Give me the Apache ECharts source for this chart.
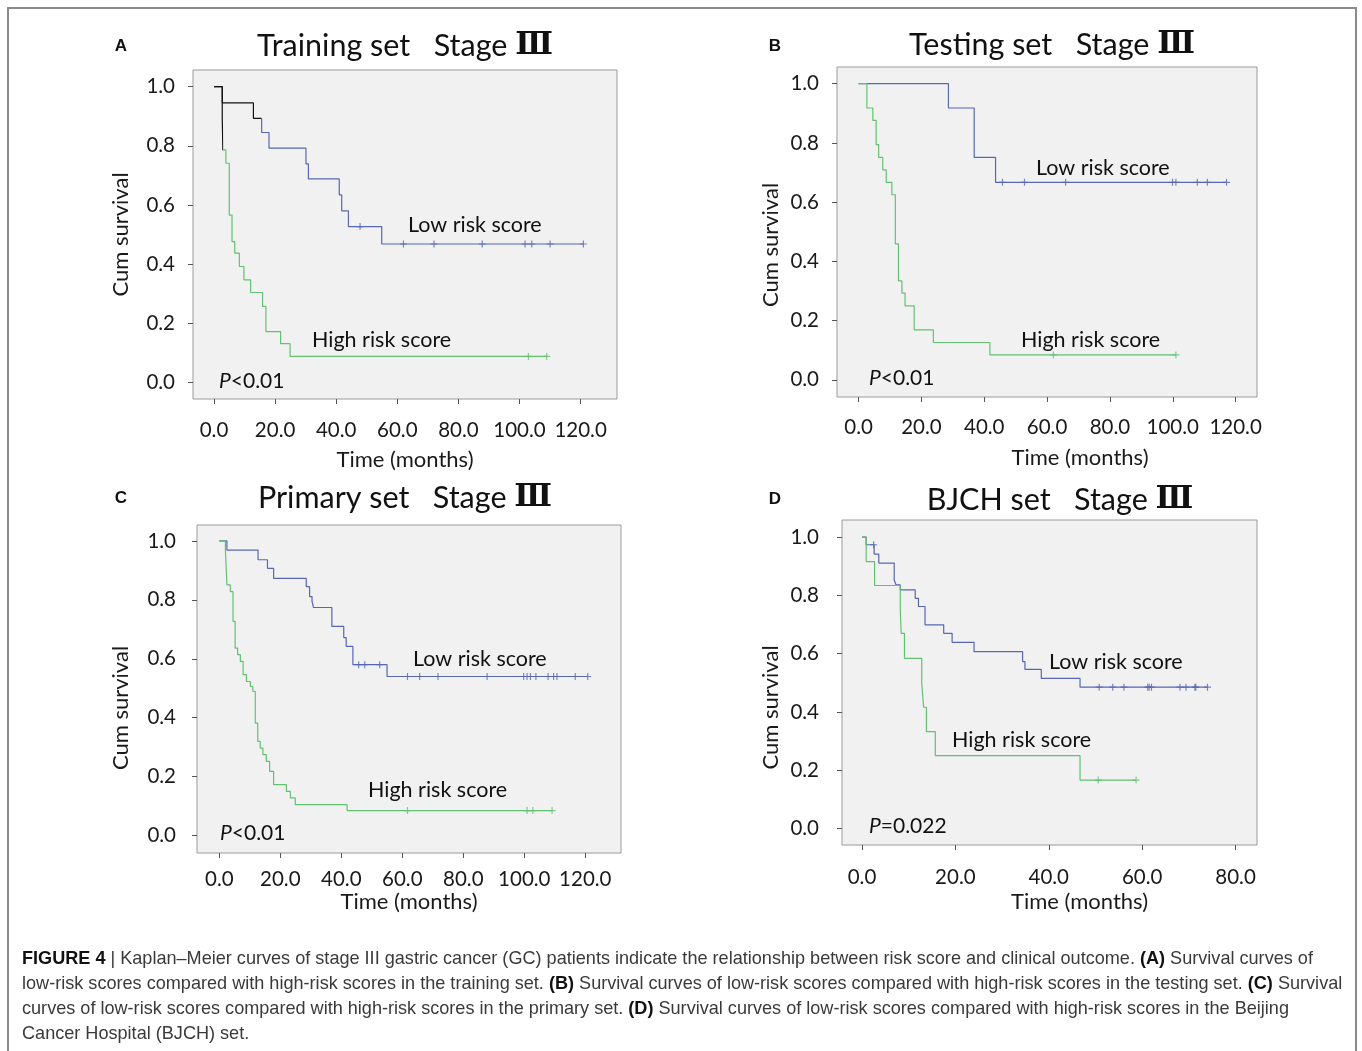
<!DOCTYPE html>
<html>
<head>
<meta charset="utf-8">
<script src="https://cdn.jsdelivr.net/npm/echarts@6/dist/echarts.min.js"></script>
<style>
  html, body { margin: 0; padding: 0; background: #fff; }
  #main { width: 1362px; height: 1051px; }
</style>
</head>
<body>
<div id="main"></div>
<script>
// tick values
const xTicks120 = [0, 20, 40, 60, 80, 100, 120];
const xTicks80 = [0, 20, 40, 60, 80];
const yTicks = [0, 0.2, 0.4, 0.6, 0.8, 1.0];

// Kaplan-Meier steps: [months, cum survival after the step]
// A - training set
const trainLow = [[0, 1], [2.7, 0.945], [12.9, 0.893], [15.6, 0.845], [18.0, 0.792], [30.1, 0.739], [30.9, 0.688],
  [41.0, 0.634], [41.8, 0.58], [44.0, 0.527], [54.9, 0.468], [120.9, 0.468]];
const trainHigh = [[0, 1], [2.7, 0.893], [2.9, 0.786], [3.9, 0.741], [5.0, 0.566], [5.9, 0.476], [6.8, 0.437],
  [8.3, 0.392], [9.8, 0.347], [12.0, 0.304], [15.9, 0.257], [17.0, 0.172], [21.8, 0.131], [24.9, 0.088], [108.9, 0.088]];
const trainLowCens = [[47.8, 0.527], [62.0, 0.468], [72.0, 0.468], [87.8, 0.468], [101.8, 0.468], [104.0, 0.468], [110.0, 0.468], [120.9, 0.468]];
const trainHighCens = [[102.9, 0.088], [108.9, 0.088]];

// B - testing set
const testLow = [[0, 1], [28.6, 0.918], [36.8, 0.751], [43.6, 0.667], [117.1, 0.667]];
const testHigh = [[0, 1], [2.65, 0.918], [4.55, 0.876], [5.6, 0.794], [6.4, 0.751], [7.7, 0.709], [8.8, 0.667],
  [10.6, 0.625], [11.7, 0.459], [12.7, 0.334], [13.8, 0.293], [14.8, 0.25], [17.7, 0.169], [23.8, 0.126], [41.8, 0.084], [101.0, 0.084]];
const testLowCens = [[45.8, 0.667], [52.8, 0.667], [65.9, 0.667], [99.9, 0.667], [101.0, 0.667], [107.8, 0.667], [111.0, 0.667], [117.1, 0.667]];
const testHighCens = [[62.0, 0.084], [101.0, 0.084]];

// C - primary set
const primLow = [[0, 1], [2.5, 0.969], [12.7, 0.936], [15.8, 0.907], [17.8, 0.873], [28.5, 0.845], [29.6, 0.811],
  [30.4, 0.794], [30.9, 0.774], [36.9, 0.71], [40.8, 0.672], [41.6, 0.642], [43.8, 0.58], [55.0, 0.54], [120.8, 0.54]];
const primHigh = [[0, 1], [2.0, 0.969], [2.5, 0.851], [3.6, 0.828], [4.5, 0.727], [5.2, 0.636], [6.0, 0.614],
  [6.9, 0.591], [7.8, 0.546], [8.9, 0.523], [10.2, 0.506], [11.0, 0.489], [11.8, 0.382], [12.6, 0.32], [13.4, 0.297],
  [14.3, 0.275], [15.4, 0.252], [16.5, 0.218], [17.8, 0.173], [22.0, 0.15], [23.3, 0.128], [24.9, 0.105], [41.9, 0.085], [109.1, 0.085]];
const primLowCens = [[45.7, 0.58], [47.7, 0.58], [52.6, 0.58], [61.7, 0.54], [65.7, 0.54], [71.7, 0.54], [87.8, 0.54],
  [99.8, 0.54], [100.9, 0.54], [102.0, 0.54], [103.8, 0.54], [107.8, 0.54], [109.6, 0.54], [110.7, 0.54], [116.7, 0.54], [120.8, 0.54]];
const primHighCens = [[61.7, 0.085], [100.9, 0.085], [102.8, 0.085], [109.1, 0.085]];

// D - BJCH set
const bjchLow = [[0, 1], [0.9, 0.974], [2.6, 0.942], [3.6, 0.911], [6.9, 0.853], [7.3, 0.836], [8.2, 0.819],
  [11.4, 0.79], [12.1, 0.762], [13.5, 0.699], [17.5, 0.67], [19.3, 0.639], [24.0, 0.607], [34.4, 0.573],
  [34.9, 0.546], [38.4, 0.515], [46.7, 0.485], [74.0, 0.485]];
const bjchHigh = [[0, 1], [0.9, 0.916], [2.7, 0.834], [8.2, 0.75], [8.4, 0.67], [9.1, 0.584], [12.8, 0.498],
  [13.2, 0.416], [13.8, 0.332], [15.7, 0.25], [46.7, 0.166], [58.7, 0.166]];
const bjchLowCens = [[2.5, 0.974], [50.8, 0.485], [53.7, 0.485], [56.1, 0.485], [61.2, 0.485], [61.5, 0.485], [62.0, 0.485],
  [68.1, 0.485], [69.4, 0.485], [71.3, 0.485], [71.5, 0.485], [74.0, 0.485]];
const bjchHighCens = [[50.6, 0.166], [58.7, 0.166]];

const BLUE = '#5767b3';
const GREEN = '#62c272';
const BLACK = '#111';
const FONT = 'Lato, "Open Sans", sans-serif';
const PLUS = 'path://M-1,-6L1,-6L1,-1L6,-1L6,1L1,1L1,6L-1,6L-1,1L-6,1L-6,-1L-1,-1Z';

const panels = [
  { letter: 'A', title: 'Training set', tx: 405, ty: 46, lx: 121, ly: 46,
    grid: { left: 193, top: 70, width: 424, height: 329 }, xr: [-6.87, 131.9], yr: [-0.0561, 1.0564], xt: xTicks120,
    xm: 21, xng: 50, xsh: 0, ym: 18, yng: 61, ysh: 0,
    low: trainLow, high: trainHigh, lowC: trainLowCens, highC: trainHighCens,
    lowTxt: [408, 225], highTxt: [312, 340], p: 'P}<0.01', pPos: [219, 381] },
  { letter: 'B', title: 'Testing set', tx: 1052, ty: 45, lx: 775, ly: 46,
    grid: { left: 837, top: 67, width: 420, height: 330 }, xr: [-6.86, 126.8], yr: [-0.058, 1.0564], xt: xTicks120,
    xm: 20, xng: 50, xsh: 33, ym: 18, yng: 55, ysh: 13,
    low: testLow, high: testHigh, lowC: testLowCens, highC: testHighCens,
    lowTxt: [1036, 168], highTxt: [1021, 340], p: 'P}<0.01', pPos: [869, 378] },
  { letter: 'C', title: 'Primary set', tx: 405, ty: 498, lx: 121, ly: 498,
    grid: { left: 197, top: 525, width: 424, height: 328 }, xr: [-7.31, 131.7], yr: [-0.059, 1.054], xt: xTicks120,
    xm: 16, xng: 38, xsh: 0, ym: 21, yng: 65, ysh: 19,
    low: primLow, high: primHigh, lowC: primLowCens, highC: primHighCens,
    lowTxt: [413, 659], highTxt: [368, 790], p: 'P}<0.01', pPos: [220, 833] },
  { letter: 'D', title: 'BJCH set', tx: 1060, ty: 500, lx: 775, ly: 499,
    grid: { left: 842, top: 520, width: 415, height: 325 }, xr: [-4.28, 84.6], yr: [-0.057, 1.059], xt: xTicks80,
    xm: 22, xng: 46, xsh: 30, ym: 23, yng: 60, ysh: 25,
    low: bjchLow, high: bjchHigh, lowC: bjchLowCens, highC: bjchHighCens,
    lowTxt: [1049, 662], highTxt: [952, 740], p: 'P}=0.022', pPos: [869, 826] }
];

const grids = [], xAxes = [], yAxes = [], series = [], graphics = [];
const labelStyle = { fontSize: 20.5, color: '#1a1a1a', fontFamily: FONT };
const nameStyle = { fontSize: 22, color: '#1a1a1a', fontFamily: FONT };

panels.forEach((p, i) => {
  grids.push(Object.assign({ show: true, backgroundColor: '#f1f1f1', borderColor: '#9b9b9b', borderWidth: 1 }, p.grid));
  xAxes.push({
    gridIndex: i, type: 'value', min: p.xr[0], max: p.xr[1],
    axisLine: { show: false, onZero: false }, splitLine: { show: false },
    axisTick: { show: true, customValues: p.xt, length: 5, lineStyle: { color: '#555' } },
    axisLabel: Object.assign({ customValues: p.xt, margin: p.xm, formatter: v => v.toFixed(1) }, labelStyle),
    name: 'Time (months)', nameLocation: 'middle', nameGap: p.xng,
    nameTextStyle: Object.assign({ padding: [0, 0, 0, p.xsh * 2] }, nameStyle)
  });
  yAxes.push({
    gridIndex: i, type: 'value', min: p.yr[0], max: p.yr[1],
    axisLine: { show: false, onZero: false }, splitLine: { show: false },
    axisTick: { show: true, customValues: yTicks, length: 5, lineStyle: { color: '#555' } },
    axisLabel: Object.assign({ customValues: yTicks, margin: p.ym, formatter: v => v.toFixed(1) }, labelStyle),
    name: 'Cum survival', nameLocation: 'middle', nameGap: p.yng,
    nameTextStyle: Object.assign({ padding: [0, p.ysh * 2, 0, 0] }, nameStyle)
  });
  // the training-set curves are coloured by visualMap below, so they get no fixed line colour
  const line = (name, data, color) => ({
    name, type: 'line', step: 'end', xAxisIndex: i, yAxisIndex: i, data,
    showSymbol: false, silent: true, lineStyle: i === 0 ? { width: 1.2 } : { width: 1.2, color }, itemStyle: { color }, z: 2
  });
  const cens = (name, data, color) => ({
    name, type: 'scatter', xAxisIndex: i, yAxisIndex: i, data,
    symbol: PLUS, symbolSize: 7, silent: true, itemStyle: { color }, z: 3
  });
  series.push(line('Low risk score', p.low, BLUE));
  series.push(line('High risk score', p.high, GREEN));
  series.push(cens('Low risk censored', p.lowC, BLUE));
  series.push(cens('High risk censored', p.highC, GREEN));

  // panel letter and title
  graphics.push({ type: 'text', x: p.lx, y: p.ly, style: { text: p.letter, font: 'bold 17px "Liberation Sans", Arial, sans-serif', fill: '#111', align: 'center', verticalAlign: 'middle' } });
  graphics.push({ type: 'text', x: p.tx, y: p.ty, style: {
    text: p.title + '   Stage {r|Ⅲ}', fontSize: 30.5, fontFamily: FONT, fill: '#111', align: 'center', verticalAlign: 'middle',
    rich: { r: { fontSize: 31, fontFamily: '"DejaVu Serif", serif', fontWeight: 'bold', fill: '#111' } } } });
  // in-plot annotations
  const note = (t, pos) => ({ type: 'text', x: pos[0], y: pos[1], z: 10, style: { text: t, fontSize: 21.5, fontFamily: FONT, fill: '#111', verticalAlign: 'middle' } });
  graphics.push(note('Low risk score', p.lowTxt));
  graphics.push(note('High risk score', p.highTxt));
  graphics.push({ type: 'text', x: p.pPos[0], y: p.pPos[1], z: 10, style: {
    text: '{i|' + p.p, fontSize: 21, fontFamily: FONT, fill: '#111', verticalAlign: 'middle',
    rich: { i: { fontStyle: 'italic', fontSize: 21, fontFamily: FONT, fill: '#111' } } } });
});

// outer frame of the figure
graphics.push({ type: 'rect', shape: { x: 8, y: 8, width: 1348, height: 1070 }, style: { fill: 'none', stroke: '#8a8a8a', lineWidth: 2 }, z: -1 });

// caption
const captionLines = [
  '{b|FIGURE 4} | Kaplan–Meier curves of stage III gastric cancer (GC) patients indicate the relationship between risk score and clinical outcome. {b|(A)} Survival curves of',
  'low-risk scores compared with high-risk scores in the training set. {b|(B)} Survival curves of low-risk scores compared with high-risk scores in the testing set. {b|(C)} Survival',
  'curves of low-risk scores compared with high-risk scores in the primary set. {b|(D)} Survival curves of low-risk scores compared with high-risk scores in the Beijing',
  'Cancer Hospital (BJCH) set.'
];
const capFont = '"Liberation Sans", Arial, sans-serif';
captionLines.forEach((t, k) => {
  graphics.push({ type: 'text', x: 22, y: 959 + k * 25, style: {
    text: t, fontSize: 18.1, fontFamily: capFont, fill: '#3a3a3a', verticalAlign: 'middle',
    rich: { b: { fontSize: 18.1, fontFamily: capFont, fontWeight: 'bold', fill: '#111' } } } });
});

const myChart = echarts.init(document.getElementById('main'));
const option = {
  animation: false,
  backgroundColor: '#fff',
  grid: grids,
  xAxis: xAxes,
  yAxis: yAxes,
  // in the training set the curves start out black where the two groups overlap
  visualMap: [{
    type: 'piecewise', show: false, seriesIndex: 0, dimension: 0,
    pieces: [{ gte: -20, lt: 15.5, color: BLACK }, { gte: 15.5, lte: 200, color: BLUE }]
  }, {
    type: 'piecewise', show: false, seriesIndex: 1, dimension: 0,
    pieces: [{ gte: -20, lt: 2.8, color: BLACK }, { gte: 2.8, lte: 200, color: GREEN }]
  }],
  series: series,
  graphic: graphics
};
myChart.setOption(option);
</script>
</body>
</html>
